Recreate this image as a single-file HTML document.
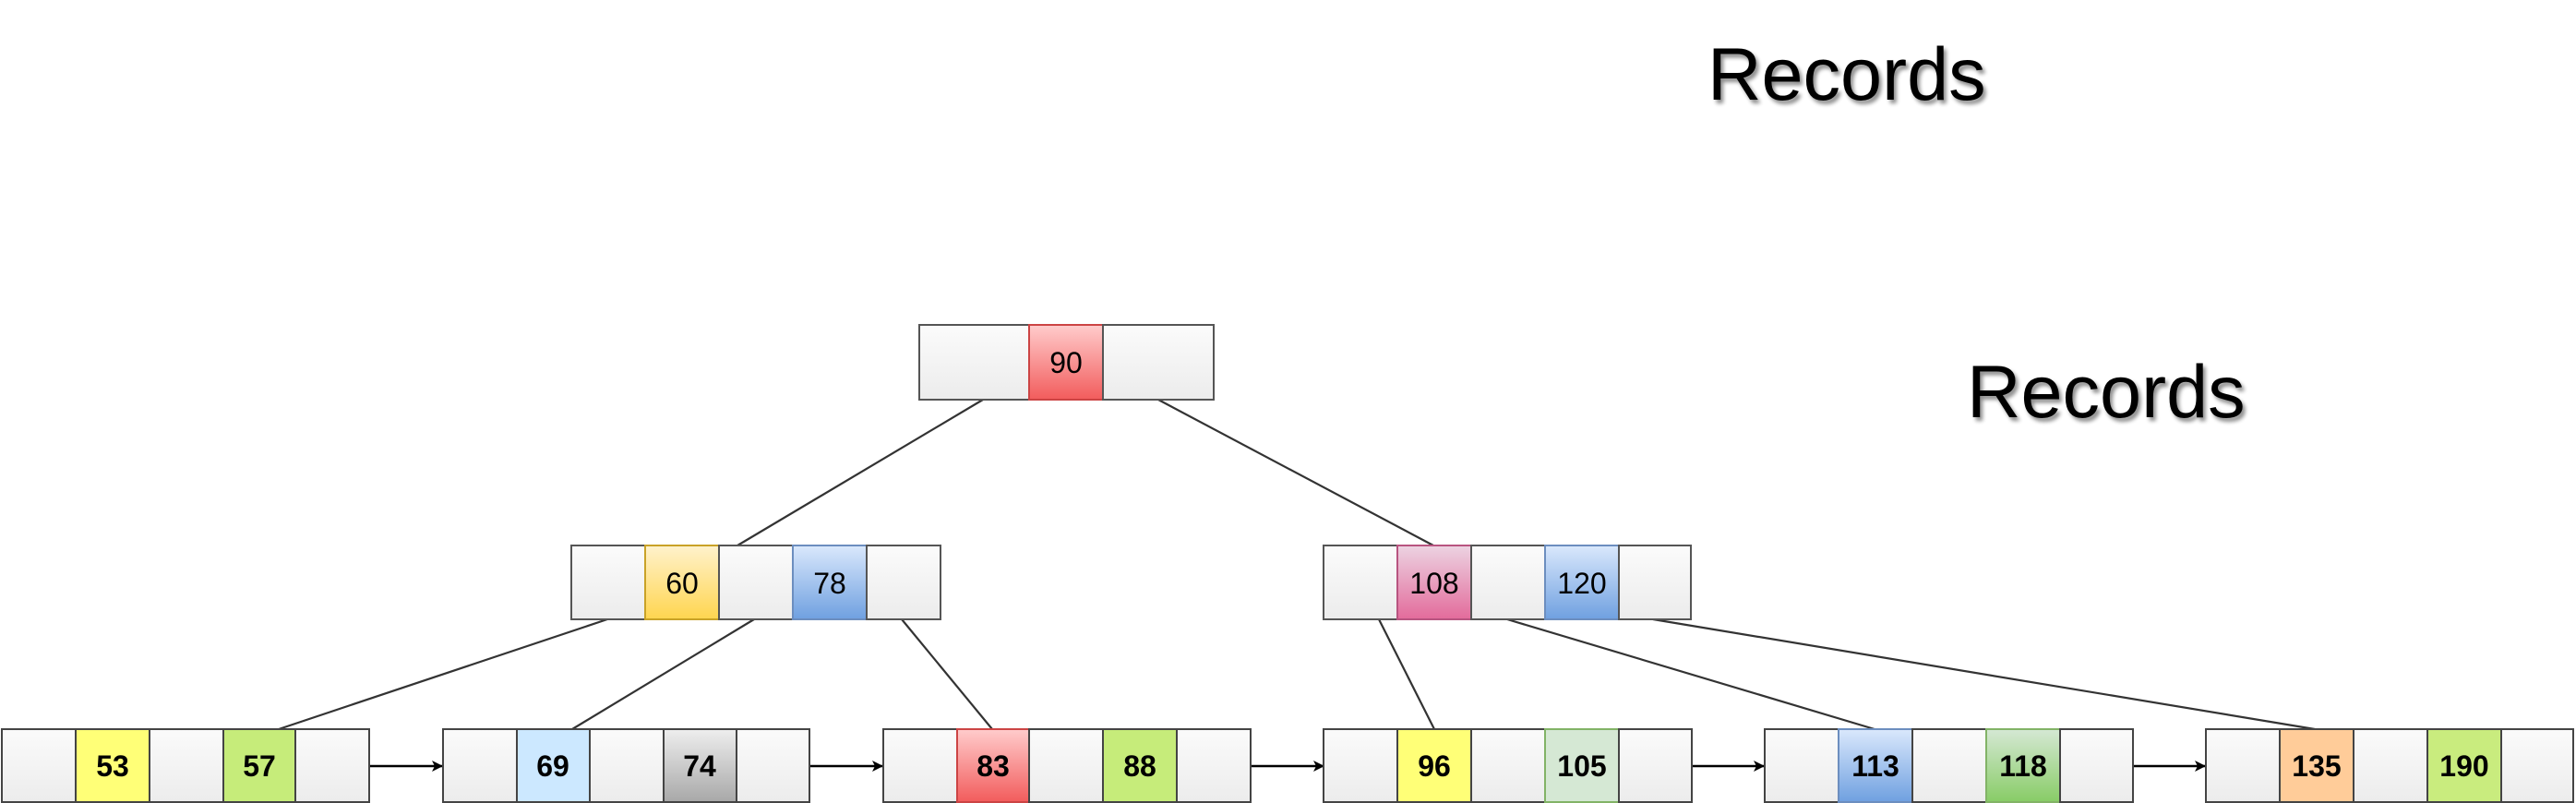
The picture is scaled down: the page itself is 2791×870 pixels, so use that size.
<!DOCTYPE html>
<html><head><meta charset="utf-8"><style>
html,body{margin:0;padding:0;background:#fff;}
svg{display:block;}
</style></head><body>
<svg width="2791" height="870" viewBox="0 0 2791 870" xmlns="http://www.w3.org/2000/svg" font-family="Liberation Sans, Arial, sans-serif">
<defs>
<linearGradient id="e" x1="0" y1="0" x2="0" y2="1"><stop offset="0" stop-color="#fbfbfb"/><stop offset="1" stop-color="#ececec"/></linearGradient>
<linearGradient id="gray" x1="0" y1="0" x2="0" y2="1"><stop offset="0" stop-color="#eeeeee"/><stop offset="1" stop-color="#a8a8a8"/></linearGradient>
<linearGradient id="red" x1="0" y1="0" x2="0" y2="1"><stop offset="0" stop-color="#ffcccc"/><stop offset="1" stop-color="#f25c5c"/></linearGradient>
<linearGradient id="blue" x1="0" y1="0" x2="0" y2="1"><stop offset="0" stop-color="#dae8fc"/><stop offset="1" stop-color="#6fa0e0"/></linearGradient>
<linearGradient id="gold" x1="0" y1="0" x2="0" y2="1"><stop offset="0" stop-color="#fff2cc"/><stop offset="1" stop-color="#ffd54f"/></linearGradient>
<linearGradient id="pink" x1="0" y1="0" x2="0" y2="1"><stop offset="0" stop-color="#ecd3e2"/><stop offset="1" stop-color="#e36b9b"/></linearGradient>
<linearGradient id="green" x1="0" y1="0" x2="0" y2="1"><stop offset="0" stop-color="#d5e8d4"/><stop offset="1" stop-color="#88cc66"/></linearGradient>
<marker id="arr" markerWidth="12" markerHeight="12" refX="11" refY="6" orient="auto" markerUnits="userSpaceOnUse"><path d="M0,0 L12,6 L0,12 L3,6 Z" fill="#000"/></marker>
<filter id="sh" x="-5%" y="-20%" width="115%" height="150%"><feGaussianBlur in="SourceAlpha" stdDeviation="2"/><feOffset dx="3" dy="4"/><feComponentTransfer><feFuncA type="linear" slope="0.45"/></feComponentTransfer><feMerge><feMergeNode/><feMergeNode in="SourceGraphic"/></feMerge></filter>
</defs>

<text x="1850" y="108" font-size="81" filter="url(#sh)">Records</text>
<text x="2131" y="452" font-size="81" filter="url(#sh)">Records</text>

<g stroke="#333" stroke-width="2.2" fill="none">
<line x1="1065" y1="433" x2="799" y2="591"/>
<line x1="1255" y1="433" x2="1553" y2="591"/>
<line x1="658" y1="671" x2="302" y2="790"/>
<line x1="817" y1="671" x2="620" y2="790"/>
<line x1="977" y1="671" x2="1075" y2="790"/>
<line x1="1494" y1="671" x2="1554" y2="790"/>
<line x1="1633" y1="671" x2="2031" y2="790"/>
<line x1="1791" y1="671" x2="2508" y2="790"/>
</g>
<g stroke="#000" stroke-width="2.5" marker-end="url(#arr)">
<line x1="400" y1="830" x2="479" y2="830"/>
<line x1="878" y1="830" x2="956" y2="830"/>
<line x1="1356" y1="830" x2="1434" y2="830"/>
<line x1="1833" y1="830" x2="1911" y2="830"/>
<line x1="2311" y1="830" x2="2389" y2="830"/>
</g>

<g stroke="#555" stroke-width="2">
<!-- root -->
<rect x="996" y="352" width="119" height="81" fill="url(#e)"/>
<rect x="1115" y="352" width="80" height="81" fill="url(#red)" stroke="#c44"/>
<rect x="1195" y="352" width="120" height="81" fill="url(#e)"/>
<!-- left mid -->
<rect x="619" y="591" width="80" height="80" fill="url(#e)"/>
<rect x="699" y="591" width="80" height="80" fill="url(#gold)" stroke="#c9a227"/>
<rect x="779" y="591" width="80" height="80" fill="url(#e)"/>
<rect x="859" y="591" width="80" height="80" fill="url(#blue)" stroke="#6c8ebf"/>
<rect x="939" y="591" width="80" height="80" fill="url(#e)"/>
<!-- right mid -->
<rect x="1434" y="591" width="80" height="80" fill="url(#e)"/>
<rect x="1514" y="591" width="80" height="80" fill="url(#pink)" stroke="#b85480"/>
<rect x="1594" y="591" width="80" height="80" fill="url(#e)"/>
<rect x="1674" y="591" width="80" height="80" fill="url(#blue)" stroke="#6c8ebf"/>
<rect x="1754" y="591" width="78" height="80" fill="url(#e)"/>
</g>
<g font-size="32" text-anchor="middle">
<text x="1155" y="404">90</text>
<text x="739" y="643">60</text>
<text x="899" y="643">78</text>
<text x="1554" y="643">108</text>
<text x="1714" y="643">120</text>
</g>

<g stroke="#444" stroke-width="2">
<!-- leaf1 -->
<rect x="2" y="790" width="80" height="79" fill="url(#e)"/>
<rect x="82" y="790" width="80" height="79" fill="#ffff77"/>
<rect x="162" y="790" width="80" height="79" fill="url(#e)"/>
<rect x="242" y="790" width="78" height="79" fill="#c6ec7a"/>
<rect x="320" y="790" width="80" height="79" fill="url(#e)"/>
<!-- leaf2 -->
<rect x="480" y="790" width="80" height="79" fill="url(#e)"/>
<rect x="560" y="790" width="79" height="79" fill="#cce8ff"/>
<rect x="639" y="790" width="80" height="79" fill="url(#e)"/>
<rect x="719" y="790" width="79" height="79" fill="url(#gray)"/>
<rect x="798" y="790" width="79" height="79" fill="url(#e)"/>
<!-- leaf3 -->
<rect x="957" y="790" width="80" height="79" fill="url(#e)"/>
<rect x="1037" y="790" width="78" height="79" fill="url(#red)" stroke="#c44"/>
<rect x="1115" y="790" width="80" height="79" fill="url(#e)"/>
<rect x="1195" y="790" width="80" height="79" fill="#c6ec7a"/>
<rect x="1275" y="790" width="80" height="79" fill="url(#e)"/>
<!-- leaf4 -->
<rect x="1434" y="790" width="80" height="79" fill="url(#e)"/>
<rect x="1514" y="790" width="80" height="79" fill="#ffff77"/>
<rect x="1594" y="790" width="80" height="79" fill="url(#e)"/>
<rect x="1674" y="790" width="80" height="79" fill="#d5e8d4" stroke="#82b366"/>
<rect x="1754" y="790" width="79" height="79" fill="url(#e)"/>
<!-- leaf5 -->
<rect x="1912" y="790" width="80" height="79" fill="url(#e)"/>
<rect x="1992" y="790" width="80" height="79" fill="url(#blue)" stroke="#6c8ebf"/>
<rect x="2072" y="790" width="80" height="79" fill="url(#e)"/>
<rect x="2152" y="790" width="80" height="79" fill="url(#green)" stroke="#82b366"/>
<rect x="2232" y="790" width="79" height="79" fill="url(#e)"/>
<!-- leaf6 -->
<rect x="2390" y="790" width="80" height="79" fill="url(#e)"/>
<rect x="2470" y="790" width="80" height="79" fill="#ffcc99"/>
<rect x="2550" y="790" width="80" height="79" fill="url(#e)"/>
<rect x="2630" y="790" width="80" height="79" fill="#c9ec7e"/>
<rect x="2710" y="790" width="78" height="79" fill="url(#e)"/>
</g>
<g font-size="32" font-weight="bold" text-anchor="middle">
<text x="122" y="841">53</text>
<text x="281" y="841">57</text>
<text x="599" y="841">69</text>
<text x="758" y="841">74</text>
<text x="1076" y="841">83</text>
<text x="1235" y="841">88</text>
<text x="1554" y="841">96</text>
<text x="1714" y="841">105</text>
<text x="2032" y="841">113</text>
<text x="2192" y="841">118</text>
<text x="2510" y="841">135</text>
<text x="2670" y="841">190</text>
</g>
</svg>
</body></html>
